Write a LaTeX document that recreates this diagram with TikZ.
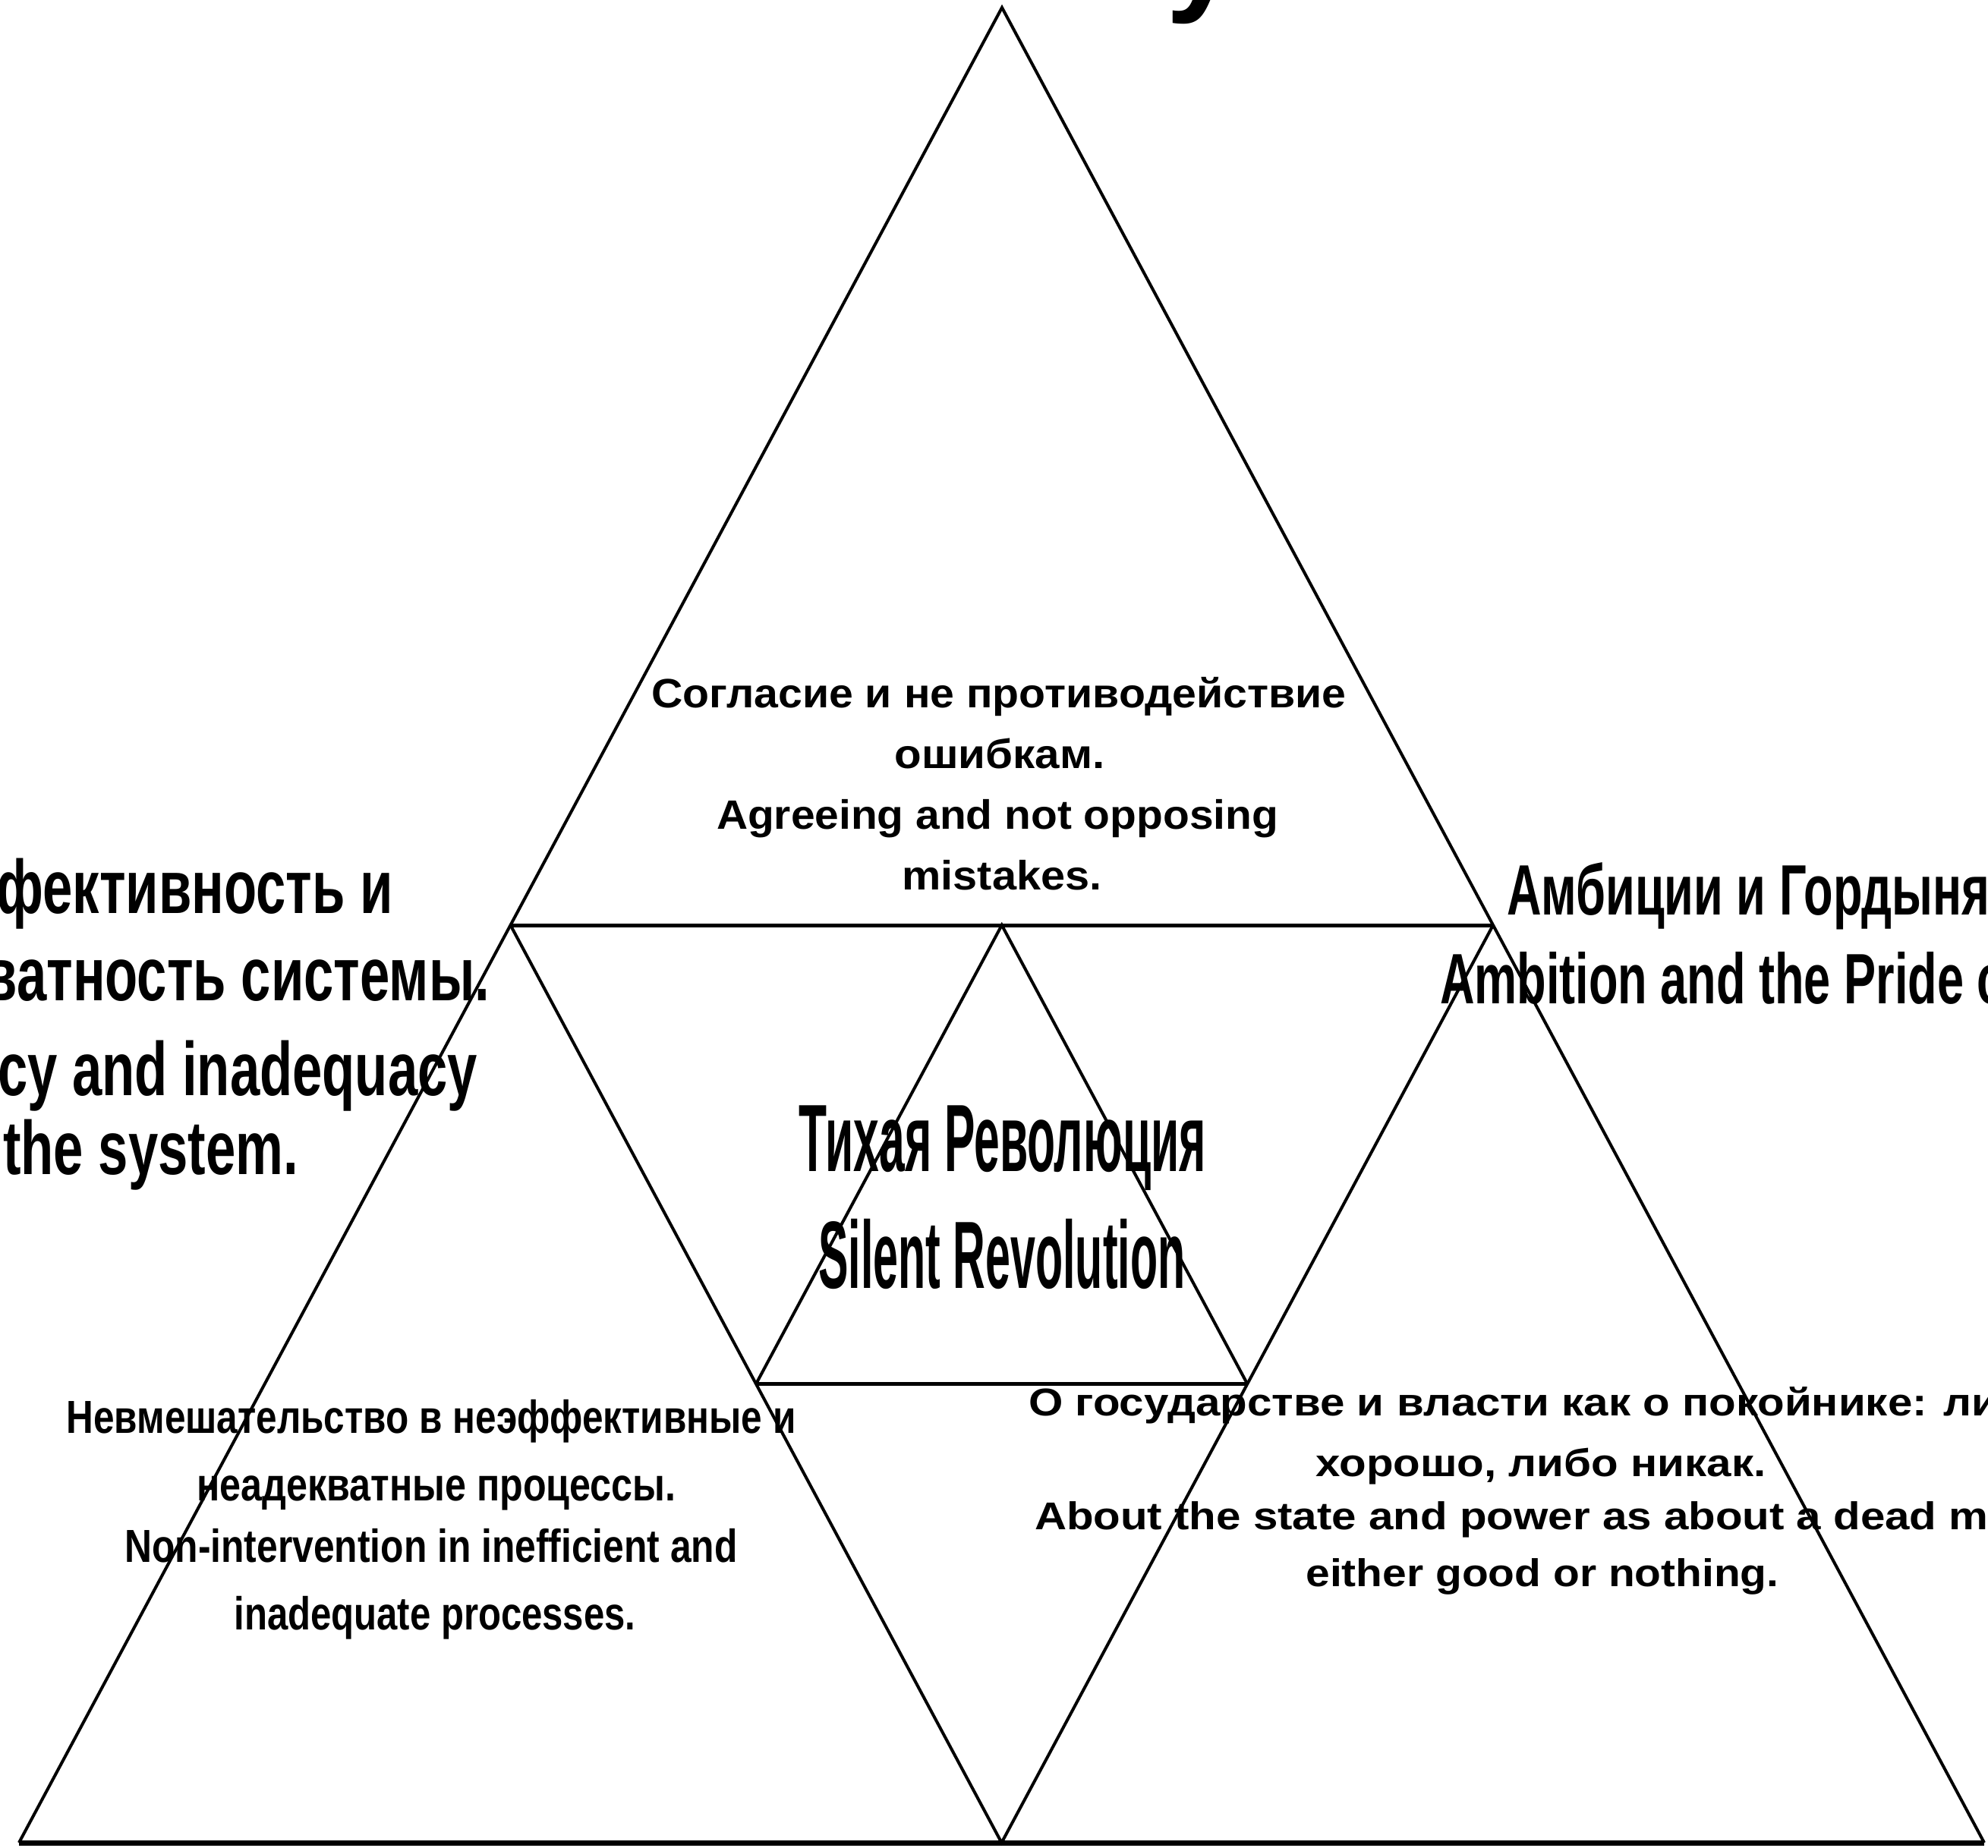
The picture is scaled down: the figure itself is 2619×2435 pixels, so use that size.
\documentclass[tikz,border=0pt]{standalone}
\usepackage{fontspec}
\usepackage{graphicx}
\usetikzlibrary{calc}
\setmainfont{Liberation Sans}
\newlength\wtmp
\newcommand\fitw[2]{\resizebox{#1pt}{\height}{#2}}
\newcommand\sqz[2]{\scalebox{#1}[1]{#2}}
\begin{document}
\settowidth\wtmp{\bfseries\fontsize{100}{100}\selectfont cy and inadequacy}%
\pgfmathsetmacro\rL{632/\wtmp}%
\settowidth\wtmp{\bfseries\fontsize{94}{94}\selectfont Амбиции и Гордыня}%
\pgfmathsetmacro\rR{636/\wtmp}%
\settowidth\wtmp{\bfseries\fontsize{51}{51}\selectfont хорошо, либо никак.}%
\pgfmathsetmacro\rB{593/\wtmp}%
\begin{tikzpicture}[x=1pt,y=-1pt,
  edge/.style={line width=4pt, line join=miter},
  hline/.style={line width=5pt},
  base/.style={line width=7pt},
  txt/.style={inner sep=0pt, outer sep=0pt},
  fA/.style={font=\bfseries\fontsize{54}{54}\selectfont},
  fB/.style={font=\bfseries\fontsize{126}{126}\selectfont},
  fC/.style={font=\bfseries\fontsize{94}{94}\selectfont},
  fD/.style={font=\bfseries\fontsize{100}{100}\selectfont},
  fE/.style={font=\bfseries\fontsize{61}{61}\selectfont},
  fF/.style={font=\bfseries\fontsize{51}{51}\selectfont},
  fT/.style={font=\bfseries\fontsize{170}{170}\selectfont},
]
\useasboundingbox (0,0) rectangle (2619,2435);
\fill[white] (0,0) rectangle (2619,2435);
\clip (0,0) rectangle (2619,2435);

% geometry
\coordinate (A) at (1320,10);
\coordinate (BL) at (25,2428);
\coordinate (BR) at (2614,2428);
\coordinate (ML) at ($(A)!0.5!(BL)$);
\coordinate (MR) at ($(A)!0.5!(BR)$);
\coordinate (MB) at ($(BL)!0.5!(BR)$);
\coordinate (IT) at ($(ML)!0.5!(MR)$);
\coordinate (IL) at ($(ML)!0.5!(MB)$);
\coordinate (IR) at ($(MR)!0.5!(MB)$);

\draw[edge] (BL) -- (A) -- (BR);
\draw[base] (BL) -- (BR);
\draw[hline] (ML) -- (MR);
\draw[edge] (ML) -- (MB) -- (MR);
\draw[edge] (IL) -- (IT) -- (IR);
\draw[hline] (IL) -- (IR);

% cut-off title
\node[txt, fT, anchor=base west] (title) at (1536,-3) {y};

% top block
\node[txt, fA, anchor=base] (t1) at (1316,932) {\fitw{915}{Согласие и не противодействие}};
\node[txt, fA, anchor=base] (t2) at (1317,1012) {\fitw{277}{ошибкам.}};
\node[txt, fA, anchor=base] (t3) at (1314,1092) {\fitw{740}{Agreeing and not opposing}};
\node[txt, fA, anchor=base] (t4) at (1320,1172) {\fitw{263}{mistakes.}};

% centre block
\node[txt, fB, anchor=base] (c1) at (1321,1543) {\fitw{536}{Тихая Революция}};
\node[txt, fB, anchor=base] (c2) at (1320,1697) {\fitw{483}{Silent Revolution}};

% right block
\node[txt, fC, anchor=base west] (r1) at (1985,1205) {\fitw{636}{Амбиции и Гордыня}};
\node[txt, fC, anchor=base west] (r2) at (1897,1322) {\sqz{\rR}{Ambition and the Pride of}};

% left block
\node[txt, fD, anchor=base east] (l1) at (518,1203) {\sqz{\rL}{Неэффективность и}};
\node[txt, fD, anchor=base east] (l2) at (645,1318) {\sqz{\rL}{неадекватность системы.}};
\node[txt, fD, anchor=base east] (l3) at (629,1443) {\sqz{\rL}{Inefficiency and inadequacy}};
\node[txt, fD, anchor=base east] (l4) at (393,1547) {\sqz{\rL}{of the system.}};

% bottom-left block
\node[txt, fE, anchor=base] (bl1) at (568,1888) {\fitw{961}{Невмешательство в неэффективные и}};
\node[txt, fE, anchor=base] (bl2) at (575,1977) {\fitw{631}{неадекватные процессы.}};
\node[txt, fE, anchor=base] (bl3) at (568,2058) {\fitw{807}{Non-intervention in inefficient and}};
\node[txt, fE, anchor=base] (bl4) at (573,2147) {\fitw{529}{inadequate processes.}};

% bottom-right block
\node[txt, fF, anchor=base west] (br1) at (1355,1865) {\sqz{\rB}{О государстве и власти как о покойнике: либо}};
\node[txt, fF, anchor=base] (br2) at (2030,1945) {\fitw{593}{хорошо, либо никак.}};
\node[txt, fF, anchor=base west] (br3) at (1363,2015) {\sqz{\rB}{About the state and power as about a dead man:}};
\node[txt, fF, anchor=base] (br4) at (2032,2090) {\fitw{623}{either good or nothing.}};
\end{tikzpicture}
\end{document}
